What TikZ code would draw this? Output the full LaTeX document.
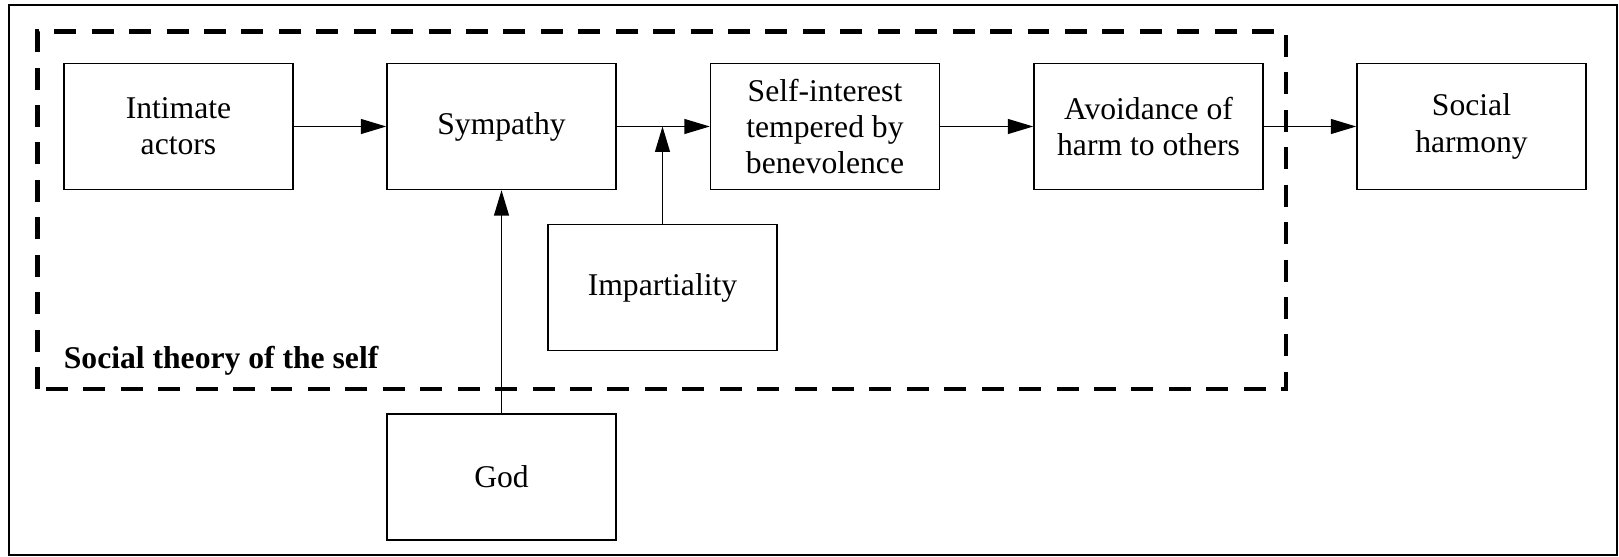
\documentclass[tikz,border=0pt]{standalone}
\usepackage{fontspec}
\IfFontExistsTF{LiberationSerif-Regular.ttf}
  {\setmainfont{LiberationSerif}[Extension=.ttf, UprightFont=*-Regular,
     BoldFont=*-Bold, ItalicFont=*-Italic, BoldItalicFont=*-BoldItalic]}
  {\setmainfont{Liberation Serif}}
\usetikzlibrary{arrows.meta,positioning}
\tikzset{
  box/.style={draw, rectangle, line width=0.8pt, align=center,
              minimum width=4.58cm, minimum height=2.52cm, inner sep=2pt,
              font=\rmfamily\fontsize{18}{20.6}\selectfont},
  grouplabel/.style={anchor=base west, inner sep=0pt,
              font=\rmfamily\fontsize{18}{20.6}\selectfont\bfseries},
  groupframe/.style={draw, line width=2.4pt, dash pattern=on 12.5pt off 8.8pt},
  outerframe/.style={draw, line width=1pt},
  flow/.style={-{Triangle[length=14.5pt,width=8.5pt]}, line width=0.8pt},
}

\begin{document}
\begin{tikzpicture}
  \useasboundingbox (0,0) rectangle (32.38,11.14);
  \draw[outerframe] (0.18,0.04) rectangle (32.34,11.04);
  % the social theory of the self
  \draw[groupframe] (0.75,3.36) rectangle (25.72,10.51);
  \node[grouplabel] (grp) at (1.27,3.77) {Social theory of the self};
  % main chain
  \node[box] (intim) at (3.57,8.61)  {Intimate\\ actors};
  \node[box] (symp)  at (10.03,8.61) {Sympathy};
  \node[box] (self)  at (16.50,8.61) {Self-interest\\ tempered by\\ benevolence};
  \node[box] (avoid) at (22.97,8.61) {Avoidance of\\ harm to others};
  \node[box] (harm)  at (29.43,8.61) {Social\\ harmony};
  % inputs from below
  \node[box] (imp)   at (13.25,5.39) {Impartiality};
  \node[box] (god)   at (10.03,1.60) {God};
  \draw[flow] (intim) -- (symp);
  \draw[flow] (symp)  -- (self);
  \draw[flow] (self)  -- (avoid);
  \draw[flow] (avoid) -- (harm);
  \draw[flow] (imp)   -- (imp |- symp.east);
  \draw[flow] (god)   -- (symp);
\end{tikzpicture}
\end{document}
